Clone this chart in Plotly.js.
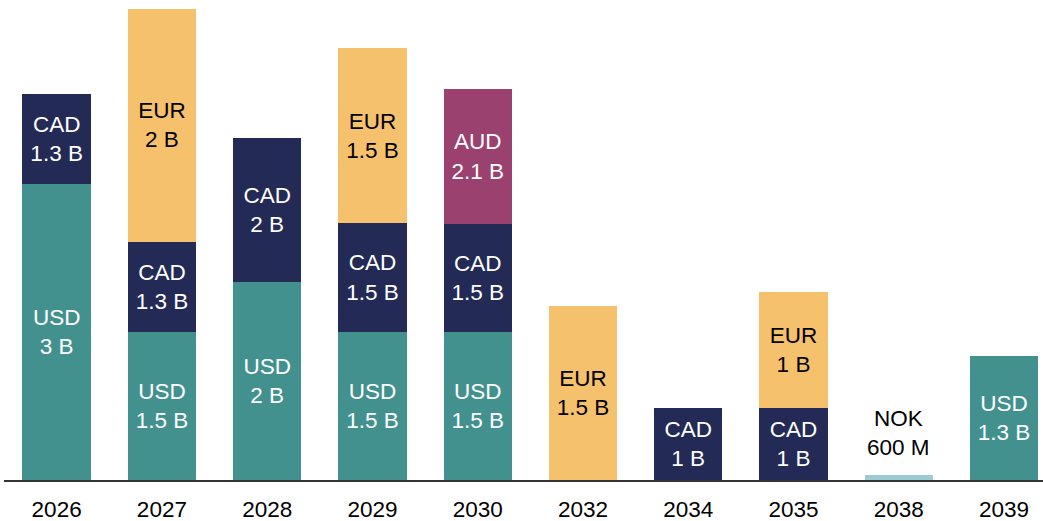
<!DOCTYPE html>
<html>
<head>
<meta charset="utf-8">
<script src="https://cdn.plot.ly/plotly-3.0.1.min.js"></script>
<style>html,body{margin:0;padding:0;background:#fff;}#chart{width:1043px;height:521px;}</style>
</head>
<body>
<div id="chart"></div>
<script>
// Maturity years
const years = ['2026','2027','2028','2029','2030','2032','2034','2035','2038','2039'];

// Bar heights (USD-equivalent billions); null = none
const usdValues = [3.0, 1.5, 2.0, 1.5, 1.5, null, null, null, null, 1.25];
const cadValues = [0.91, 0.91, 1.46, 1.10, 1.09, null, 0.73, 0.73, null, null];
const eurValues = [null, 2.36, null, 1.77, null, 1.76, null, 1.17, null, null];
const audValues = [null, null, null, null, 1.37, null, null, null, null, null];
const nokValues = [null, null, null, null, null, null, null, null, 0.055, null];

// Labels (nominal amounts in local currency)
const usdLabels = ['USD<br>3 B','USD<br>1.5 B','USD<br>2 B','USD<br>1.5 B','USD<br>1.5 B','','','','','USD<br>1.3 B'];
const cadLabels = ['CAD<br>1.3 B','CAD<br>1.3 B','CAD<br>2 B','CAD<br>1.5 B','CAD<br>1.5 B','','CAD<br>1 B','CAD<br>1 B','',''];
const eurLabels = ['','EUR<br>2 B','','EUR<br>1.5 B','','EUR<br>1.5 B','','EUR<br>1 B','',''];
const audLabels = ['','','','','AUD<br>2.1 B','','','','',''];
const nokLabels = ['','','','','','','','','NOK<br>600 M',''];

const FONT = 'Arial, "Liberation Sans", sans-serif';
const FS = 22.5;

function series(name, values, labels, color, textColor) {
  return {
    type: 'bar', name: name, x: years, y: values,
    text: labels, textposition: 'inside', insidetextanchor: 'middle',
    textangle: 0, constraintext: 'none',
    textfont: {family: FONT, size: FS, color: textColor},
    marker: {color: color, line: {width: 0}},
    hoverinfo: 'x+y'
  };
}

const traces = [
  series('USD', usdValues, usdLabels, '#43918f', '#ffffff'),
  series('CAD', cadValues, cadLabels, '#232a55', '#ffffff'),
  series('EUR', eurValues, eurLabels, '#f6c16c', '#000000'),
  series('AUD', audValues, audLabels, '#9a4170', '#ffffff'),
  {
    type: 'bar', name: 'NOK', x: years, y: nokValues,
    marker: {color: '#9ccbd6', line: {width: 0}}, hoverinfo: 'x+y'
  }
];

// Label above the small NOK bar (x given as category index)
const annotations = [];
years.forEach((yr, i) => {
  if (nokValues[i] != null) {
    annotations.push({
      x: i, y: nokValues[i], xref: 'x', yref: 'y',
      text: nokLabels[i], showarrow: false, yanchor: 'bottom', yshift: 13,
      font: {family: FONT, size: FS, color: '#000000'}
    });
  }
});

const layout = {
  width: 1043, height: 521,
  margin: {l: 4, r: 0, t: 0, b: 41, pad: 0},
  barmode: 'stack', bargap: 0.35,
  showlegend: false,
  uniformtext: {mode: 'show', minsize: FS},
  paper_bgcolor: '#ffffff', plot_bgcolor: '#ffffff',
  font: {family: FONT, size: FS, color: '#000000'},
  xaxis: {
    type: 'category', range: [-0.5, 9.37],
    showline: true, linecolor: '#333333', linewidth: 1.5,
    showgrid: false, zeroline: false, ticks: '',
    ticklabelstandoff: 8,
    tickfont: {family: FONT, size: FS, color: '#000000'},
    fixedrange: true
  },
  yaxis: {
    range: [0, 4.858], visible: false, showgrid: false, zeroline: false, fixedrange: true
  },
  annotations: annotations
};

Plotly.newPlot('chart', traces, layout, {displayModeBar: false, staticPlot: true});
</script>
</body>
</html>
